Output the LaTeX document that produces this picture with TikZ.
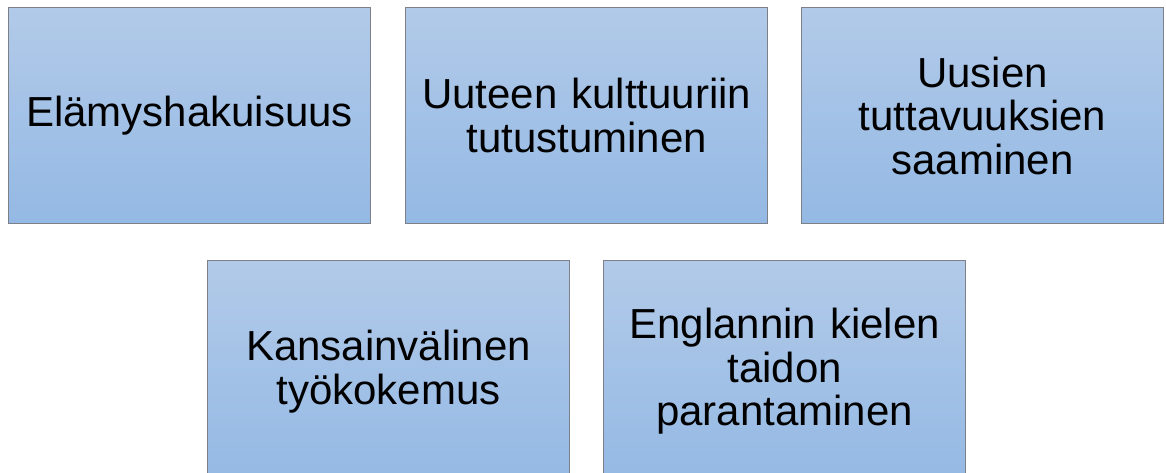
\documentclass[tikz,border=0pt]{standalone}
\usepackage{fontspec}
\setmainfont{Liberation Sans}
\definecolor{boxtop}{RGB}{178,202,233}
\definecolor{boxbot}{RGB}{148,185,228}
\definecolor{boxedge}{RGB}{125,128,135}
\begin{document}
\begin{tikzpicture}[x=1pt,y=1pt,
  card/.style={draw=boxedge, line width=1.2pt, top color=boxtop, bottom color=boxbot,
    minimum width=362pt, minimum height=216pt, inner sep=0pt, anchor=north west,
    align=center, text width=358pt,
    font=\fontsize{42}{43.5}\selectfont}]
\useasboundingbox (0,0) rectangle (1166,472);
\clip (0,0) rectangle (1166,472);
\node[card] (a) at (8,465) {Elämyshakuisuus};
\node[card] (b) at (405,465) {Uuteen kulttuuriin\\tutustuminen};
\node[card] (c) at (801,465) {Uusien\\tuttavuuksien\\saaminen};
\node[card, minimum height=222pt] (d) at (207,212) {Kansainvälinen\\työkokemus};
\node[card, minimum height=222pt] (e) at (603,212) {Englannin kielen\\taidon\\parantaminen};
\end{tikzpicture}
\end{document}
